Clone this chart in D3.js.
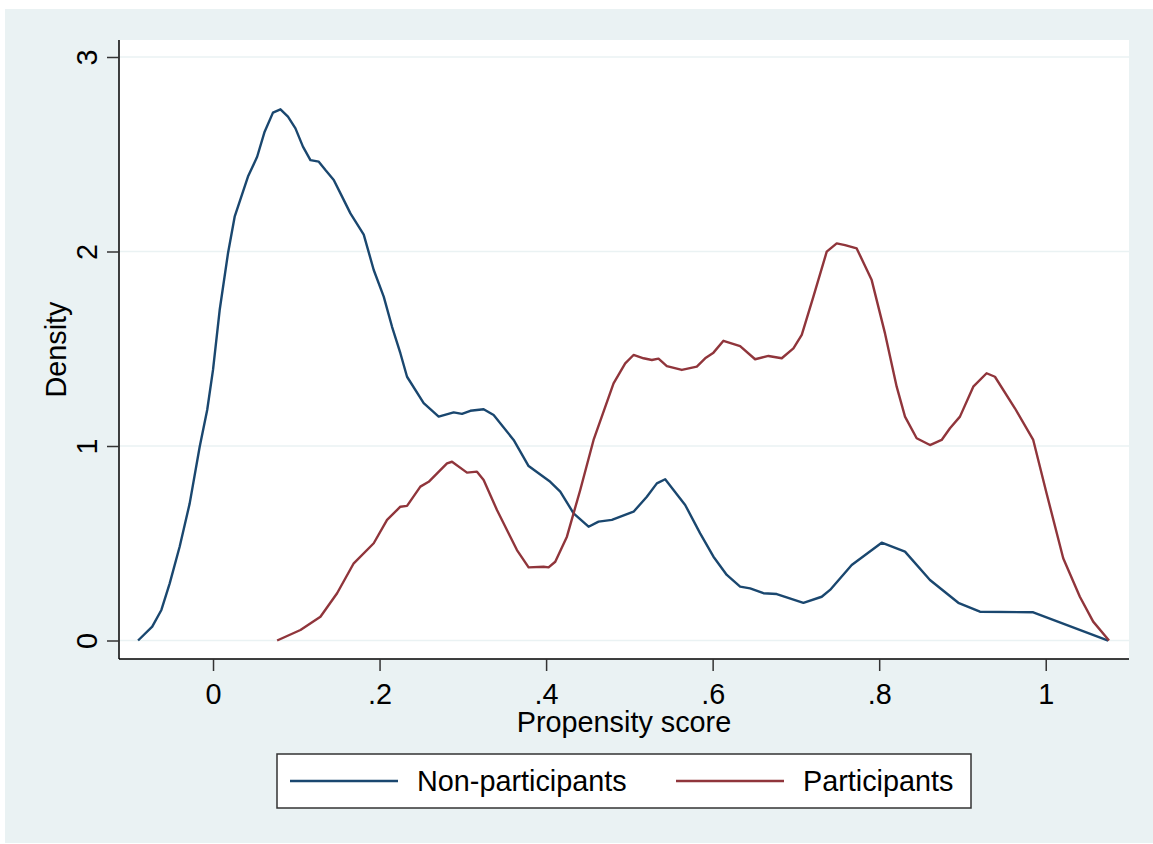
<!DOCTYPE html>
<html>
<head>
<meta charset="utf-8">
<script src="https://cdn.jsdelivr.net/npm/d3@7"></script>
<style>
  body { margin: 0; background: #fff; }
  text { font-family: "Liberation Sans", Arial, sans-serif; fill: #000; }
</style>
</head>
<body>
<div id="chart"></div>
<script>
// kernel density, propensity score
const nonX = [-0.090, -0.073, -0.062, -0.052, -0.040, -0.028, -0.016, -0.007, 0.000, 0.008, 0.018, 0.026, 0.042, 0.053, 0.062, 0.072, 0.081, 0.090, 0.099, 0.108, 0.117, 0.127, 0.135, 0.145, 0.155, 0.165, 0.181, 0.193, 0.205, 0.215, 0.225, 0.233, 0.253, 0.271, 0.289, 0.299, 0.309, 0.325, 0.337, 0.361, 0.379, 0.405, 0.417, 0.433, 0.451, 0.463, 0.479, 0.505, 0.521, 0.533, 0.543, 0.567, 0.585, 0.601, 0.617, 0.633, 0.645, 0.661, 0.677, 0.709, 0.731, 0.741, 0.767, 0.803, 0.831, 0.861, 0.895, 0.921, 0.985, 1.075];
const nonY = [0.000, 0.071, 0.157, 0.294, 0.483, 0.705, 0.996, 1.185, 1.391, 1.699, 1.991, 2.179, 2.385, 2.487, 2.616, 2.714, 2.731, 2.693, 2.633, 2.539, 2.470, 2.462, 2.419, 2.368, 2.282, 2.196, 2.087, 1.905, 1.768, 1.613, 1.477, 1.356, 1.220, 1.151, 1.173, 1.165, 1.181, 1.189, 1.159, 1.031, 0.897, 0.816, 0.765, 0.654, 0.585, 0.611, 0.620, 0.662, 0.739, 0.808, 0.829, 0.697, 0.551, 0.431, 0.337, 0.277, 0.268, 0.243, 0.239, 0.194, 0.225, 0.260, 0.388, 0.503, 0.457, 0.311, 0.194, 0.148, 0.145, 0.000];

const parX = [0.077, 0.105, 0.129, 0.149, 0.169, 0.193, 0.209, 0.225, 0.233, 0.249, 0.259, 0.281, 0.287, 0.305, 0.317, 0.325, 0.341, 0.365, 0.379, 0.397, 0.403, 0.411, 0.425, 0.441, 0.457, 0.481, 0.495, 0.505, 0.517, 0.527, 0.535, 0.545, 0.563, 0.581, 0.591, 0.601, 0.613, 0.633, 0.651, 0.667, 0.683, 0.697, 0.707, 0.721, 0.737, 0.749, 0.759, 0.773, 0.791, 0.807, 0.821, 0.831, 0.845, 0.861, 0.875, 0.885, 0.897, 0.913, 0.929, 0.939, 0.963, 0.985, 1.001, 1.021, 1.041, 1.057, 1.076];
const parY = [0.000, 0.054, 0.122, 0.243, 0.397, 0.500, 0.620, 0.688, 0.692, 0.791, 0.816, 0.911, 0.919, 0.863, 0.868, 0.825, 0.671, 0.465, 0.376, 0.379, 0.376, 0.405, 0.534, 0.774, 1.031, 1.322, 1.425, 1.468, 1.451, 1.442, 1.449, 1.411, 1.391, 1.408, 1.451, 1.480, 1.541, 1.514, 1.446, 1.463, 1.451, 1.502, 1.571, 1.768, 1.999, 2.042, 2.033, 2.016, 1.853, 1.579, 1.305, 1.151, 1.040, 1.005, 1.031, 1.091, 1.151, 1.305, 1.374, 1.356, 1.194, 1.031, 0.757, 0.423, 0.225, 0.097, 0.000];

const xTicks = [0, 0.2, 0.4, 0.6, 0.8, 1];
const xTickLabels = ["0", ".2", ".4", ".6", ".8", "1"];
const yTicks = [0, 1, 2, 3];
const seriesNames = ["Non-participants", "Participants"];
const seriesColors = ["#1a476f", "#90353b"];

const W = 1153, H = 844;
const plot = { left: 119, right: 1129, top: 40, bottom: 659 };
const fs = "28.8px";

const svg = d3.select("#chart").append("svg").attr("width", W).attr("height", H);

svg.append("rect").attr("x", 5).attr("y", 9).attr("width", W - 5).attr("height", 834).attr("fill", "#eaf2f3");
svg.append("rect").attr("x", plot.left).attr("y", plot.top)
    .attr("width", plot.right - plot.left).attr("height", plot.bottom - plot.top).attr("fill", "#fff");

const x = d3.scaleLinear().domain([-0.1129, 1.1]).range([plot.left, plot.right]);
const y = d3.scaleLinear().domain([-0.0951, 3.0874]).range([plot.bottom, plot.top]);

// grid
svg.append("g").selectAll("line").data(yTicks).enter().append("line")
    .attr("x1", plot.left).attr("x2", plot.right)
    .attr("y1", d => y(d)).attr("y2", d => y(d))
    .attr("stroke", "#eaf2f3").attr("stroke-width", 1.5);

// axes
const yAxis = svg.append("g").attr("transform", `translate(${plot.left},0)`)
    .call(d3.axisLeft(y).tickValues(yTicks).tickSize(12).tickPadding(10).tickFormat(d3.format("d")));
const xAxis = svg.append("g").attr("transform", `translate(0,${plot.bottom})`)
    .call(d3.axisBottom(x).tickValues(xTicks).tickSize(12).tickPadding(12).tickFormat((d, i) => xTickLabels[i]));

[xAxis, yAxis].forEach(a => {
    a.select(".domain").attr("stroke", "#000").attr("stroke-width", 1.5);
    a.selectAll(".tick line").attr("stroke", "#333").attr("stroke-width", 1.5);
    a.selectAll(".tick text").style("font-family", "'Liberation Sans', Arial, sans-serif").style("font-size", fs).attr("fill", "#000");
});
xAxis.select(".domain").attr("d", `M${plot.left},0H${plot.right}`);
yAxis.select(".domain").attr("d", `M0,${plot.top}V${plot.bottom}`);

xAxis.selectAll(".tick text").attr("y", 45).attr("dy", null);
yAxis.selectAll(".tick text")
    .attr("x", null).attr("dy", null)
    .attr("text-anchor", "middle")
    .attr("transform", "translate(-22,0) rotate(-90)");

// axis titles
svg.append("text").attr("x", (plot.left + plot.right) / 2).attr("y", 732)
    .attr("text-anchor", "middle").style("font-size", fs).text("Propensity score");
svg.append("text").attr("transform", `translate(66,${(plot.top + plot.bottom) / 2}) rotate(-90)`)
    .attr("text-anchor", "middle").style("font-size", fs).text("Density");

// curves
const line = d3.line().x(d => x(d[0])).y(d => y(d[1]));
const series = [d3.zip(nonX, nonY), d3.zip(parX, parY)];
svg.append("g").selectAll("path").data(series).enter().append("path")
    .attr("d", line).attr("fill", "none")
    .attr("stroke", (d, i) => seriesColors[i]).attr("stroke-width", 2.4)
    .attr("stroke-linejoin", "round");

// legend
const lg = svg.append("g");
lg.append("rect").attr("x", 277).attr("y", 754).attr("width", 694).attr("height", 54)
    .attr("fill", "#fff").attr("stroke", "#333").attr("stroke-width", 1.5);
const legendX = [[290, 398, 417], [676, 784, 803]];
seriesNames.forEach((name, i) => {
    lg.append("line").attr("x1", legendX[i][0]).attr("x2", legendX[i][1]).attr("y1", 781).attr("y2", 781)
        .attr("stroke", seriesColors[i]).attr("stroke-width", 2.4);
    lg.append("text").attr("x", legendX[i][2]).attr("y", 791).style("font-size", fs).text(name);
});
</script>
</body>
</html>
